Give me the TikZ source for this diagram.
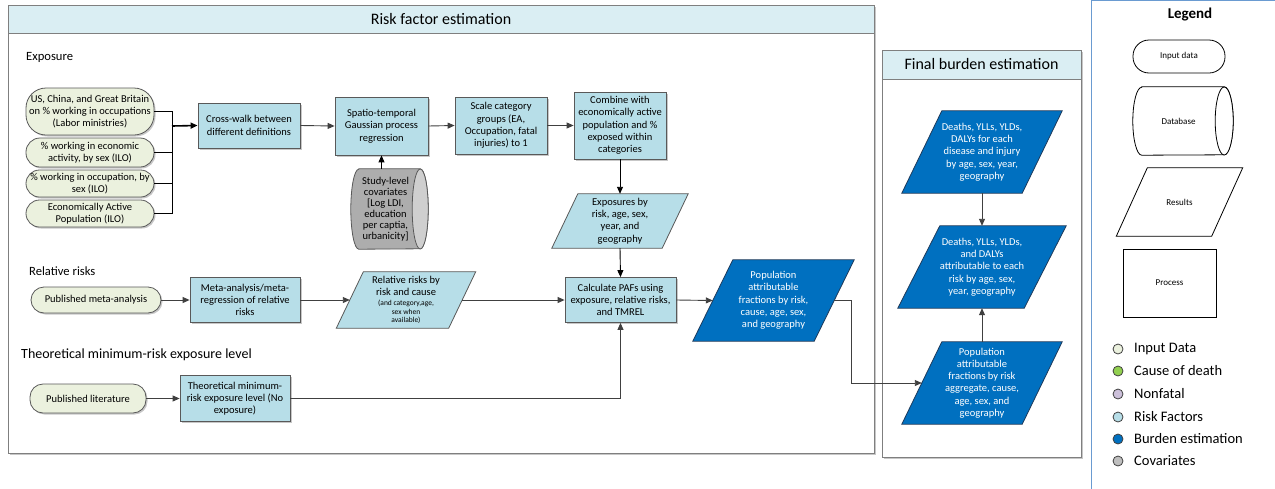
\documentclass[tikz,border=0pt]{standalone}
\usepackage{fontspec}
\setmainfont{Carlito}
\usetikzlibrary{arrows.meta,shapes.geometric,shapes.misc,calc,shadows}

\definecolor{inputfill}{HTML}{EBF1DE}
\definecolor{rfill}{HTML}{B7DEE8}
\definecolor{hdrfill}{HTML}{DAEEF3}
\definecolor{dblue}{HTML}{0070C0}
\definecolor{dblueedge}{HTML}{1F3B5C}
\definecolor{edge}{HTML}{595959}
\definecolor{conn}{HTML}{404040}
\definecolor{framegray}{HTML}{7F7F7F}
\definecolor{legblue}{HTML}{6A9BD1}
\definecolor{codgreen}{HTML}{92D050}
\definecolor{nonfatal}{HTML}{CCC0DA}
\definecolor{covgray}{HTML}{BFBFBF}
\definecolor{cylbody}{HTML}{ADADAD}
\definecolor{cylend}{HTML}{CFCFCF}

\pgfdeclarelayer{frames}
\pgfdeclarelayer{slanted}
\pgfsetlayers{frames,slanted,main}

\newcommand\boxfont{\fontsize{10.5}{12.3}\selectfont}
\newcommand\smallnote{\fontsize{7.5}{8.5}\selectfont}

\tikzset{
  every node/.style={font=\boxfont, align=center, inner sep=0pt},
  softshadow/.style={drop shadow={shadow xshift=1.5pt, shadow yshift=-1.5pt, fill=black, opacity=0.22}},
  procbox/.style={rectangle, draw=edge, fill=rfill, line width=0.8pt, softshadow},
  inputbox/.style={rectangle, rounded corners=#1, draw=edge, fill=inputfill, line width=0.8pt, softshadow},
  inputbox/.default=13,
  holder/.style={rectangle, draw=none},
  frame/.style={rectangle, draw=framegray, fill=white, line width=1pt, softshadow},
  header/.style={rectangle, draw=framegray, fill=hdrfill, line width=1pt, font=\fontsize{16}{18}\selectfont},
  section/.style={anchor=west, font=\fontsize{12.6}{14}\selectfont},
  arr/.style={draw=conn, line width=0.9pt, -{Triangle[length=7pt,width=6pt]}},
  link/.style={draw=black, line width=0.9pt},
  legshape/.style={draw=black, fill=white, line width=0.8pt, font=\fontsize{9}{10}\selectfont},
  keydot/.style={circle, draw=conn, line width=0.8pt, minimum size=10pt},
  keytext/.style={anchor=west, font=\fontsize{14.5}{16}\selectfont},
}

% parallelogram behind a named holder node: node, slant, fill, border
\newcommand\slantbox[4]{%
  \begin{pgfonlayer}{slanted}
    \fill[black, opacity=0.22, xshift=1.5pt, yshift=-1.5pt]
      ($(#1.north west)+(#2/2,0)$) -- ($(#1.north east)+(#2/2,0)$) --
      ($(#1.south east)-(#2/2,0)$) -- ($(#1.south west)-(#2/2,0)$) -- cycle;
    \draw[fill=#3, draw=#4, line width=0.8pt]
      ($(#1.north west)+(#2/2,0)$) -- ($(#1.north east)+(#2/2,0)$) --
      ($(#1.south east)-(#2/2,0)$) -- ($(#1.south west)-(#2/2,0)$) -- cycle;
  \end{pgfonlayer}}

% lying drum (database symbol) behind a holder node whose east side is the
% centre of the end ellipse: node, x radius, half height, body fill, end fill, border, shadow opacity
\newcommand\drumbox[7]{%
  \begin{pgfonlayer}{slanted}
    \fill[black, opacity=#7, xshift=1.5pt, yshift=-1.5pt]
      ($(#1.north west)+(#2,0)$) -- (#1.north east)
      arc[start angle=-90, end angle=90, x radius=#2, y radius=#3]
      -- ($(#1.south west)+(#2,0)$)
      arc[start angle=90, end angle=270, x radius=#2, y radius=#3] -- cycle;
    \draw[fill=#4, draw=#6, line width=0.8pt]
      ($(#1.north west)+(#2,0)$) -- (#1.north east)
      arc[start angle=-90, end angle=90, x radius=#2, y radius=#3]
      -- ($(#1.south west)+(#2,0)$)
      arc[start angle=90, end angle=270, x radius=#2, y radius=#3] -- cycle;
    \draw[fill=#5, draw=#6, line width=0.8pt]
      (#1.east) ellipse[x radius=#2, y radius=#3];
  \end{pgfonlayer}}

\begin{document}
\begin{tikzpicture}[x=1pt,y=-1pt]
\useasboundingbox (0,0) rectangle (1275,488);

% ---------- frames ----------
\begin{pgfonlayer}{frames}
  \node[frame, minimum width=866, minimum height=448] (rfe) at (441,229) {};
  \node[header, minimum width=866, minimum height=28] (rfeh) at (441,19) {Risk factor estimation};
  \node[frame, minimum width=199, minimum height=407] (fbe) at (981.5,253.5) {};
  \node[header, minimum width=199, minimum height=29] (fbeh) at (981.5,64.5) {Final burden estimation};
  \draw[draw=legblue, line width=0.8pt] (1091,0.6) rectangle (1290,500);
\end{pgfonlayer}

% ---------- section labels ----------
\node[section] (lexp) at (26,57) {Exposure};
\node[section] (lrr) at (29,271) {Relative risks};
\node[section, font=\fontsize{14}{16}\selectfont] (ltm) at (21,355) {Theoretical minimum-risk exposure level};

% ---------- exposure inputs ----------
\node[inputbox=20, minimum width=128, minimum height=47] (in1) at (90,111.5)
  {US, China, and Great Britain\\on \% working in occupations\\(Labor ministries)};
\node[inputbox=14, minimum width=128, minimum height=29] (in2) at (90,152.5)
  {\% working in economic\\activity, by sex (ILO)};
\node[inputbox=13.5, minimum width=128, minimum height=27] (in3) at (90,183.5)
  {\% working in occupation, by\\sex (ILO)};
\node[inputbox=13.5, minimum width=128, minimum height=27] (in4) at (90,213.5)
  {Economically Active\\Population (ILO)};

% ---------- exposure processing ----------
\node[procbox, minimum width=102, minimum height=45] (cw) at (249,125.5)
  {Cross-walk between\\different definitions};
\node[procbox, minimum width=93, minimum height=58] (sp) at (381.5,126)
  {Spatio-temporal\\Gaussian process\\regression};
\node[procbox, minimum width=92, minimum height=57] (sc) at (501,125.5)
  {Scale category\\groups (EA,\\Occupation, fatal\\injuries) to 1};
\node[procbox, minimum width=92, minimum height=67] (cb) at (620,125.5)
  {Combine with\\economically active\\population and \%\\exposed within\\categories};

\node[holder, minimum width=69, minimum height=80, font=\fontsize{10.5}{11}\selectfont] (cov) at (385.5,209)
  {Study-level\\covariates\\{[}Log LDI,\\education\\per captia,\\urbanicity{]}};
\drumbox{cov}{8}{40}{cylbody}{cylend}{edge}{0.22}

\node[holder, minimum width=110, minimum height=54] (exp) at (620,221)
  {Exposures by\\risk, age, sex,\\year, and\\geography};

% ---------- relative risks ----------
\node[inputbox, minimum width=130, minimum height=26] (pubmeta) at (96,300)
  {Published meta-analysis};
\node[procbox, minimum width=110, minimum height=45] (meta) at (245,300)
  {Meta-analysis/meta-\\regression of relative\\risks};
\node[holder, minimum width=112, minimum height=56] (rr) at (406,300)
  {Relative risks by\\risk and cause\\[-2.5pt]{\smallnote (and category,age,}\\[-3.5pt]{\smallnote sex when}\\[-3.5pt]{\smallnote available)}};

\node[procbox, minimum width=111, minimum height=45] (calc) at (620.5,300)
  {Calculate PAFs using\\exposure, relative risks,\\and TMREL};
\node[holder, minimum width=121, minimum height=81, text=white] (paf) at (773.5,300.5)
  {Population\\attributable\\fractions by risk,\\cause, age, sex,\\and geography};

% ---------- TMREL ----------
\node[inputbox, minimum width=116, minimum height=29] (publit) at (88,398.5)
  {Published literature};
\node[procbox, minimum width=110, minimum height=46] (tm) at (235,398.5)
  {Theoretical minimum-\\risk exposure level (No\\exposure)};

% ---------- final burden ----------
\node[holder, minimum width=120, minimum height=82, text=white] (d1) at (982,152)
  {Deaths, YLLs, YLDs,\\DALYs for each\\disease and injury\\by age, sex, year,\\geography};
\node[holder, minimum width=126, minimum height=82, text=white] (d2) at (982,267)
  {Deaths, YLLs, YLDs,\\and DALYs\\attributable to each\\risk by age, sex,\\year, geography};
\node[holder, minimum width=120, minimum height=82, text=white] (pafagg) at (982,383)
  {Population\\attributable\\fractions by risk\\aggregate, cause,\\age, sex, and\\geography};

\slantbox{exp}{26}{rfill}{edge}
\slantbox{rr}{27}{rfill}{edge}
\slantbox{paf}{40}{dblue}{dblueedge}
\slantbox{d1}{40}{dblue}{dblueedge}
\slantbox{d2}{42}{dblue}{dblueedge}
\slantbox{pafagg}{40}{dblue}{dblueedge}

% ---------- connectors ----------
\coordinate (bus) at (172,126);
\draw[link] (in1.east) -| (bus);
\draw[link] (in2.east) -- (in2.east -| bus);
\draw[link] (in3.east) -- (in3.east -| bus);
\draw[link] (in4.east) -| (bus);
\draw[arr, draw=black, line width=1.6pt] (bus) -- (cw.west);

\draw[arr] (cw.east) -- (sp.west);
\draw[arr] (sp.east) -- (sc.west);
\draw[arr] (sc.east) -- (cb.west);
\draw[arr, draw=black] (cb.south) -- (exp.north);
\draw[arr, draw=black] (exp.south) -- (calc.north);
\draw[arr, draw=black] (sp.south |- cov.north) -- (sp.south);

\draw[arr] (pubmeta.east) -- (meta.west);
\draw[arr] (meta.east) -- (rr.west);
\draw[arr] (rr.east) -- (calc.west);
\draw[arr] (calc.east) -- (paf.west);

\draw[arr] (publit.east) -- (tm.west);
\draw[arr] (tm.east) -| (calc.south);

\draw[arr] (paf.east) -- ++(17,0) |- (pafagg.west);
\draw[arr] (d1.south) -- (d2.north);
\draw[arr] (pafagg.north) -- (d2.south);

% ---------- legend ----------
\node[font=\bfseries\fontsize{15}{17}\selectfont] (legt) at (1190,15) {Legend};
\node[legshape, rectangle, rounded corners=16, minimum width=92, minimum height=33] (lgin) at (1179,56.5) {Input data};
\node[holder, minimum width=91, minimum height=68, font=\fontsize{9}{10}\selectfont] (lgdb) at (1178.5,121) {Database};
\drumbox{lgdb}{9}{34}{white}{white}{black}{0}
\node[holder, minimum width=95, minimum height=68, font=\fontsize{9}{10}\selectfont] (lgres) at (1179.5,202) {Results};
\slantbox{lgres}{31}{white}{black}
\node[legshape, rectangle, minimum width=93, minimum height=68] (lgproc) at (1169.5,283) {Process};

\node[keydot, fill=inputfill] (k1) at (1118,349) {};
\node[keydot, fill=codgreen] (k2) at (1118,371) {};
\node[keydot, fill=nonfatal] (k3) at (1118,394) {};
\node[keydot, fill=rfill] (k4) at (1118,417) {};
\node[keydot, fill=dblue] (k5) at (1118,439) {};
\node[keydot, fill=covgray] (k6) at (1118,461) {};
\node[keytext] (k1t) at (1134,349) {Input Data};
\node[keytext] (k2t) at (1134,371) {Cause of death};
\node[keytext] (k3t) at (1134,394) {Nonfatal};
\node[keytext] (k4t) at (1134,417) {Risk Factors};
\node[keytext] (k5t) at (1134,439) {Burden estimation};
\node[keytext] (k6t) at (1134,461) {Covariates};

\end{tikzpicture}
\end{document}
